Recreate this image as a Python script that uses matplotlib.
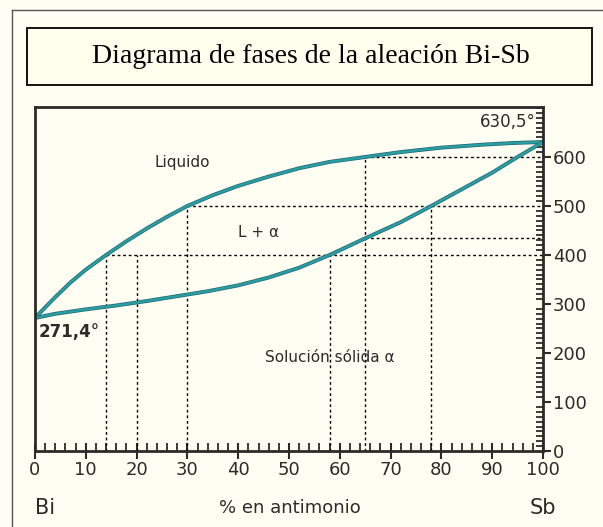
import matplotlib.pyplot as plt
from matplotlib.patches import Rectangle
from matplotlib.ticker import MultipleLocator

liq_x = [0, 2, 4, 7, 10, 14, 18, 22, 26, 30, 35, 40, 46, 52, 58, 65, 72, 80, 88, 94, 100]
liq_t = [271.4, 293, 314, 344, 370, 400, 428, 454, 478, 500, 522, 541, 560, 577, 590,
         600, 610, 619, 625, 628.5, 630.5]
sol_x = [0, 4, 10, 16, 22, 28, 34, 40, 46, 52, 58, 65, 72, 78, 84, 90, 95, 100]
sol_t = [271.4, 280, 289, 297, 306, 316, 326, 338, 354, 374, 400, 434, 467, 500, 534,
         568, 600, 630.5]

# líneas de lectura punteadas
vlines = [(14, 400), (20, 400), (30, 500), (58, 400), (65, 600), (78, 500)]
hlines = [(14, 400), (30, 500), (65, 434), (65, 600)]

y_ticks = [0, 100, 200, 300, 400, 500, 600]
x_ticks = [0, 10, 20, 30, 40, 50, 60, 70, 80, 90, 100]

bg = '#fffef2'
teal = '#2a9ca3'
ink = '#2b2b2b'

fig = plt.figure(figsize=(6.03, 5.27), dpi=100)
fig.patch.set_facecolor(bg)

# marco exterior y caja del título
fig.add_artist(plt.Line2D([0.02, 0.02], [0, 0.981], color='#555555', lw=1))
fig.add_artist(plt.Line2D([0.02, 1.0], [0.981, 0.981], color='#555555', lw=1))
fig.patches.append(Rectangle((0.0448, 0.8387), 0.937, 0.1082, transform=fig.transFigure,
                             facecolor='#ffffee', edgecolor='black', lw=1.3))
fig.text(0.515, 0.892, 'Diagrama de fases de la aleación Bi-Sb', ha='center', va='center',
         fontsize=20, family='Liberation Serif', color='black')

ax = fig.add_axes([0.058, 0.1442, 0.8425, 0.6528])
ax.set_facecolor(bg)
ax.set_xlim(0, 100)
ax.set_ylim(0, 702)

for x, t in vlines:
    ax.plot([x, x], [0, t], color='black', lw=1, ls=(0, (2, 2)))
for x, t in hlines:
    ax.plot([x, 100], [t, t], color='black', lw=1, ls=(0, (2, 2)))

for xs, ts in [(liq_x, liq_t), (sol_x, sol_t)]:
    ax.plot(xs, ts, color='#22686c', lw=2.8, solid_capstyle='round', solid_joinstyle='round')
    ax.plot(xs, ts, color=teal, lw=1.8, solid_capstyle='round', solid_joinstyle='round')

for side in ['left', 'top', 'right', 'bottom']:
    ax.spines[side].set_linewidth(2)
    ax.spines[side].set_color(ink)

ax.yaxis.tick_right()
ax.set_yticks(y_ticks)
ax.set_yticklabels([str(v) for v in y_ticks])
ax.yaxis.set_minor_locator(MultipleLocator(10))
ax.tick_params(axis='y', which='major', direction='out', length=6, width=1.5,
               pad=1, labelsize=13, colors=ink)
ax.tick_params(axis='y', which='minor', direction='in', length=5, width=1.3, colors=ink)

ax.set_xticks(x_ticks)
ax.set_xticklabels([str(v) for v in x_ticks])
ax.xaxis.set_minor_locator(MultipleLocator(2))
ax.tick_params(axis='x', which='major', direction='inout', length=12, width=1.5,
               pad=1, labelsize=13, colors=ink)
ax.tick_params(axis='x', which='minor', direction='in', length=6, width=1.3, colors=ink)

txt = dict(color=ink, fontsize=11, family='DejaVu Sans')
ax.text(29, 588, 'Liquido', ha='center', va='center', **txt)
ax.text(44, 445, 'L + α', ha='center', va='center', **txt)
ax.text(58, 190, 'Solución sólida α', ha='center', va='center', **txt)
ax.text(0.8, 262, '271,4°', ha='left', va='top', color=ink, fontsize=12, fontweight='bold')
ax.text(98.5, 672, '630,5°', ha='right', va='center', color=ink, fontsize=12)

fig.text(0.058, 0.036, 'Bi', ha='left', va='center', fontsize=15, color=ink)
fig.text(0.48, 0.036, '% en antimonio', ha='center', va='center', fontsize=13, color=ink)
fig.text(0.90, 0.036, 'Sb', ha='center', va='center', fontsize=15, color=ink)

fig.savefig('out.png', dpi=100, facecolor=bg)
